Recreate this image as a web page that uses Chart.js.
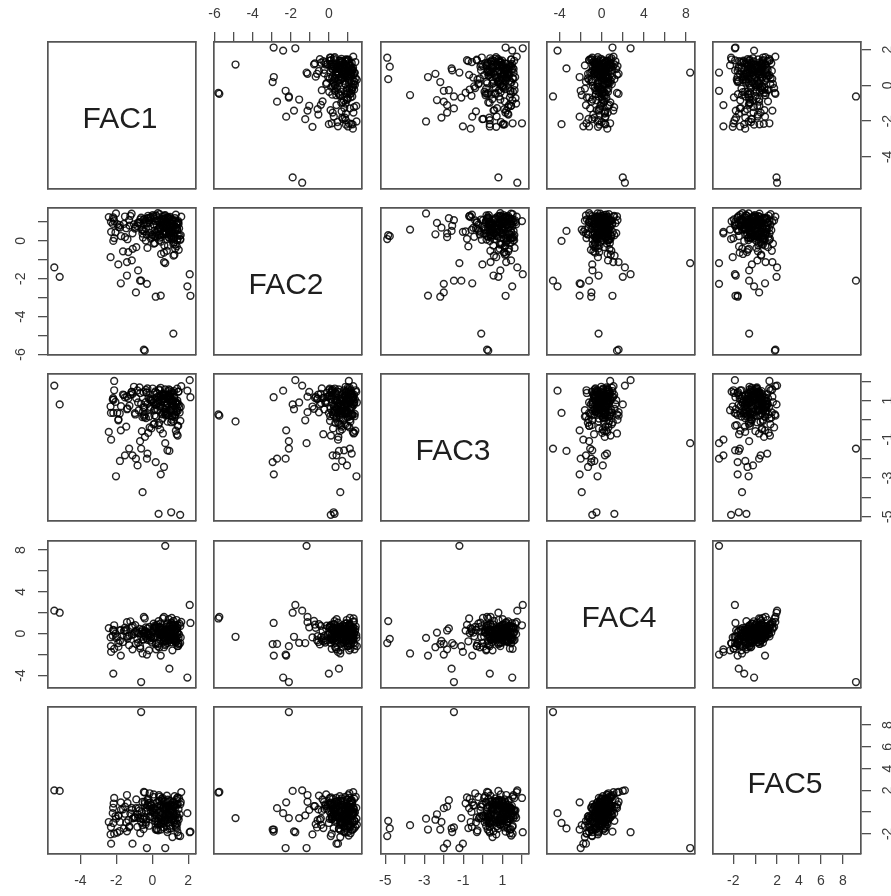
<!DOCTYPE html>
<html>
<head>
<meta charset="utf-8">
<script src="https://cdn.jsdelivr.net/npm/chart.js@4.4.1/dist/chart.umd.min.js"></script>
<style>
html,body{margin:0;padding:0;background:#fff;}
#wrap{position:relative;width:891px;height:896px;overflow:hidden;background:#fff;}
#wrap canvas{position:absolute;}
</style>
</head>
<body>
<div id="wrap"></div>
<script>
const varNames = ['FAC1', 'FAC2', 'FAC3', 'FAC4', 'FAC5'];

const fac1 = [
  -5.45, -5.15, -0.47, -0.42, 1.17, 0.35, 1.05, 1.55,
  2.12, 1.95, 2.08, 0.95, -0.62, -2.17, 0.72, -0.30,
  -2.30, -2.02, -2.29, -1.89, -1.75, -1.41, -1.41, -1.14, -0.91, -0.79,
  -0.68, 0.65, 0.19, 0.47, -1.80, -1.52, -1.29, -1.10, -0.82, -0.54,
  -0.27, 0.65, 0.84, -2.20, -2.18, -2.12, -2.12, 1.12, 1.40,
  0.52, -0.31, 1.12, 0.87, -1.45, 0.23, 1.38, -0.76, 0.65, 1.05,
  -0.12, 0.94, -1.88, 0.41, 1.27, -0.58, 0.76, 1.52, -1.02, 0.08,
  0.33, -2.15, 1.18, 0.61, -0.44, 0.99, 1.41, -1.27, 0.17, 0.72,
  -0.89, 1.33, 0.46, -0.05, 1.09, -1.63, 0.83, 0.28, 1.56, -0.67,
  0.58, 1.21, -0.23, 0.91, -1.95, 0.37, 1.47, -0.35, 0.69, 1.02,
  -1.15, 0.12, 1.29, 0.79, -0.52, 1.61, 0.44, -2.32, 0.95, -0.18,
  1.15, 0.55, -0.95, 1.36, 0.03, -1.38, 0.88, 1.24, -0.62, 0.49,
  1.44, -1.74, 0.26, 0.97, -0.27, 1.08, -2.05, 0.63, 1.31, -0.08,
  0.81, -0.83, 1.19, 0.39, -1.52, 1.49, 0.14, 0.74, -0.41, 1.11,
  -1.22, 0.67, 1.39, -0.15, 0.92, -1.81, 0.31, 1.23, 0.57, -0.71,
  1.03, -2.42, 0.48, 1.35, -0.49, 0.85, 1.58, -1.09, 0.21, 0.96,
  -0.36, 1.26, 0.07, -1.33, 0.71, 1.45, -0.97, 0.59, 1.17, -1.58,
  0.62, 0.15, 1.02, -0.28, 0.84, 1.21, 0.37, -0.49, 0.93, 1.34,
  0.06, 0.71, 1.13, -0.16, 0.48, 0.89, 1.42, 0.25, -0.37, 0.78,
  1.06, 0.43, -0.08, 1.27, 0.66, 0.19, 0.98, 1.37, -0.55, 0.54,
  0.82, 1.18, 0.31, -0.21, 1.09, 0.59, 0.02, 1.29, 0.74, 0.38,
  -0.43, 0.96, 1.46, 0.12, 0.68, 1.01, -0.12, 0.86, 0.45, 1.22,
  0.27, 0.77, -0.33, 1.15, 0.53, 0.91, 1.39, 0.09, 0.64, -0.02
];

const fac2 = [
  -1.40, -1.90, -5.75, -5.80, -4.90, 0.30, 0.25, 0.10,
  -2.90, -2.40, -1.76, 0.53, -2.10, 0.00, -1.17, -2.27,
  1.01, 1.45, 0.48, -1.24, -2.24, -1.12, -1.83, -1.03, -2.72, -1.56,
  -2.10, -1.12, -2.95, -2.89, 0.70, 0.20, 1.10, 0.40, 0.95, 0.60,
  1.20, 0.35, 0.80, 0.90, 1.25, 0.15, 1.05, 0.60, 1.00,
  0.85, 0.32, 1.12, -0.25, 0.67, 1.31, 0.04, 0.95, -0.62, 0.48,
  1.22, 0.15, 0.73, 1.41, -0.41, 0.58, 1.05, 0.27, 0.88, -0.14,
  0.62, 1.18, -0.78, 0.36, 0.99, 1.27, 0.11, 0.81, 0.44, 1.36,
  -0.33, 0.71, 1.09, 0.22, 0.93, -0.55, 1.25, 0.51, 0.06, 1.14,
  0.77, -0.08, 1.33, 0.41, 0.89, 1.02, -0.47, 0.64, 1.19, 0.29,
  1.44, 0.55, -0.19, 0.97, 0.18, 1.28, 0.69, -0.86, 0.83, 1.07,
  0.38, 1.16, 0.74, -0.29, 1.37, 0.09, 0.92, 0.57, 1.23, -0.69,
  0.96, 0.26, 1.21, 0.61, -0.37, 1.10, 0.45, 0.87, 1.39, 0.13,
  -0.52, 0.79, 1.03, 0.34, 1.29, 0.66, -0.11, 1.17, 0.50, 0.91,
  1.32, -0.24, 0.60, 1.08, 0.20, 0.84, 1.47, -0.73, 0.39, 1.00,
  0.70, 1.26, -0.04, 0.94, 0.53, 1.13, 0.31, -0.42, 1.35, 0.76,
  0.02, 1.20, 0.86, -0.59, 0.47, 1.04, 0.65, 1.30, -0.16, 0.90,
  0.72, 1.05, 0.41, 0.93, 1.24, 0.18, 0.66, 1.12, 0.35, 0.88,
  1.31, 0.52, 0.07, 0.97, 0.61, 1.19, 0.29, 0.83, 1.08, 0.46,
  0.14, 0.75, 1.27, 0.58, 0.91, 0.23, 1.15, 0.68, 0.39, 1.01,
  0.85, 0.12, 0.63, 1.22, 0.49, 0.95, 0.31, 1.09, 0.78, 0.04,
  1.17, 0.56, 0.89, 0.26, 1.34, 0.71, 0.43, 0.99, 0.17, 0.81,
  1.06, 0.37, 0.92, 0.64, 0.21, 1.25, 0.54, 0.87, 1.13, 0.33
];

const fac3 = [
  1.77, 0.80, 0.22, 0.28, -0.08, -4.85, -4.77, -4.90,
  1.17, 1.51, 2.05, -1.60, -1.48, 0.36, -1.20, -2.00,
  0.36, -2.91, -1.02, -0.02, -0.54, 1.20, 0.55, 1.45, -2.00, 0.90,
  -1.10, 0.40, -2.18, -2.81, -2.12, -1.83, -1.48, -1.83, -2.35, -3.73,
  -1.74, -2.43, -1.57, 1.05, 1.12, 1.53, 2.01, 0.50, -0.30,
  0.95, 1.42, 0.21, 1.15, -0.35, 0.78, 1.61, 0.49, 1.08, -0.12,
  0.66, 1.27, 0.03, 1.53, 0.87, -0.58, 1.19, 0.38, 1.71, 0.92,
  -0.27, 1.04, 0.57, 1.36, 0.14, 1.23, -0.81, 0.73, 1.47, 0.31,
  1.12, 0.45, 1.66, -0.44, 0.99, 1.31, 0.25, 0.84, -0.05, 1.39,
  0.61, 1.18, -0.67, 1.02, 0.36, 1.57, 0.80, 0.09, 1.29, 0.52,
  1.45, -0.20, 0.88, 1.11, 0.42, 1.74, -0.49, 0.69, 1.24, 0.17,
  0.97, 1.33, 0.28, -0.74, 1.06, 0.59, 1.49, 0.12, 0.83, 1.20,
  -0.31, 0.71, 1.38, 0.47, 1.63, 0.01, 0.93, 1.26, -0.56, 1.07,
  0.39, 1.52, 0.76, -0.15, 1.16, 0.64, 1.41, 0.23, -0.88, 0.86,
  1.30, 0.54, 1.00, -0.39, 1.58, 0.33, 0.90, 1.14, 0.07, 1.68,
  0.46, -0.62, 1.22, 0.81, 1.44, -0.09, 0.68, 1.35, 0.19, 1.03,
  1.55, 0.27, -0.23, 1.10, 0.74, 1.46, 0.35, -0.70, 0.98, 1.28,
  1.12, 0.55, 1.36, 0.82, 0.28, 1.49, 0.97, 0.63, 1.21, 0.41,
  0.88, 1.58, 0.19, 1.05, 0.73, 1.31, 0.47, 1.18, 0.92, 0.34,
  1.44, 0.68, 1.01, 0.25, 1.27, 0.79, 1.53, 0.58, 0.14, 1.09,
  0.86, 1.39, 0.51, 1.15, 0.71, 0.32, 1.62, 0.95, 0.44, 1.24,
  0.66, 1.07, 1.46, 0.23, 0.91, 1.33, 0.57, 0.83, 1.19, 0.38,
  1.03, 0.62, 1.41, 0.76, 0.29, 1.14, 0.87, 0.49, 1.28, 0.99
];

const fac4 = [
  2.20, 2.00, 1.60, 1.45, -0.30, 1.20, -0.50, -0.90,
  1.02, -4.20, 2.74, -3.35, -4.63, -3.82, 8.40, -2.00,
  -1.20, -0.40, -1.75, -0.90, -2.10, 1.10, -0.30, 0.60, -0.98, -0.88,
  -1.20, 1.60, -1.00, -2.10, -0.70, 0.30, -1.10, -1.50, 0.10, -1.90,
  0.50, -1.30, -0.90, -0.20, 0.35, -1.45, 0.80, -1.60, -1.20,
  0.12, -0.45, 0.78, -0.21, 0.35, -0.88, 0.55, 0.02, -0.63, 1.05,
  -0.12, 0.41, -1.25, 0.68, -0.33, 0.22, -0.71, 0.93, -0.05, 0.49,
  -0.95, 0.30, 1.22, -0.38, 0.07, -0.56, 0.84, -0.17, 0.61, -1.10,
  0.26, -0.49, 0.97, -0.26, 0.44, -0.80, 0.15, -0.02, 0.73, -1.42,
  0.38, -0.67, 0.05, 1.38, -0.29, 0.57, -1.03, 0.19, -0.41, 0.88,
  -0.14, 0.63, -0.85, 0.33, -0.58, 1.12, 0.09, -0.36, 0.71, -1.60,
  0.47, -0.09, 0.82, -0.73, 0.24, -0.47, 1.01, 0.11, -0.31, 0.56,
  -1.18, 0.36, -0.22, 0.69, -0.60, 1.50, 0.00, -0.78, 0.42, -0.35,
  0.91, -0.52, 0.18, -1.32, 0.58, -0.07, 0.77, -0.98, 0.29, -0.19,
  1.18, -0.43, 0.08, 0.64, -0.66, 0.31, -1.20, 0.86, -0.27, 0.45,
  -0.84, 0.53, -0.11, 1.30, -0.55, 0.20, -0.37, 0.74, -1.50, 0.13,
  0.60, -0.70, 0.95, -0.24, 0.40, -0.93, 0.17, 1.45, -0.61, 0.27,
  0.15, -0.32, 0.48, -0.07, 0.26, -0.55, 0.62, 0.03, -0.21, 0.37,
  -0.44, 0.11, 0.71, -0.16, 0.34, -0.62, 0.08, 0.52, -0.28, 0.19,
  -0.05, 0.43, -0.37, 0.29, -0.71, 0.57, 0.01, -0.24, 0.38, -0.12,
  0.66, -0.47, 0.22, -0.09, 0.45, -0.33, 0.13, 0.79, -0.58, 0.06,
  -0.19, 0.31, -0.41, 0.54, -0.02, 0.24, -0.66, 0.41, -0.14, 0.17,
  0.85, -0.27, 0.09, -0.51, 0.35, -0.04, 0.49, -0.36, 0.21, -0.85
];

const fac5 = [
  2.00, 1.95, 1.85, 1.80, -0.55, -0.80, -1.50, -2.20,
  -1.80, -0.10, -1.85, -1.50, 9.20, -1.00, -3.30, -3.30,
  -1.37, -0.60, -2.90, -0.30, 0.90, 1.57, -1.77, 0.20, 0.36, -0.55,
  -0.55, 0.95, -1.60, -1.60, -0.90, 0.50, -1.40, -2.90, -0.20, -1.20,
  1.10, -0.70, -1.83, -0.10, 0.40, -1.98, 1.30, -2.29, -1.83,
  -0.72, 0.41, 0.06, 0.93, -0.95, -1.52, 1.28, 0.37, -1.41, 0.15,
  0.88, -0.64, -0.35, 1.41, -1.18, 0.02, 0.47, -0.21, -0.52, 1.62,
  -1.68, 0.79, 0.54, 0.33, -0.44, -0.08, 1.35, -1.31, -0.27, -0.86,
  1.17, -1.05, -0.31, 0.61, -0.73, 0.25, -1.60, 0.94, 0.72, -1.94,
  -0.16, 0.52, 1.23, 0.47, -1.88, 1.56, -0.69, -0.92, 0.18, 0.04,
  0.39, -0.58, 0.71, -1.27, -0.61, 1.84, 0.63, -2.05, 0.26, -1.25,
  0.97, 1.09, -0.48, -1.47, -0.03, 0.84, 0.58, 1.47, -0.89, -1.11,
  -0.49, 0.22, -1.62, 1.06, 0.11, 0.71, -0.37, -0.97, -1.35, 0.66,
  1.52, -1.36, -0.78, -0.41, -0.15, 1.26, 0.32, 0.45, 0.81, -0.66,
  -0.12, 0.29, -1.07, 1.73, -0.31, -1.74, -1.15, 0.55, 1.31, 0.16,
  0.24, -0.91, 0.67, 1.12, -1.57, 0.49, 0.93, -0.58, -0.82, -0.26,
  0.08, -0.34, 1.39, -0.74, 1.02, -2.15, -0.46, 0.36, 0.59, -1.49,
  0.45, -0.85, 0.12, 0.63, -0.22, -0.41, 1.05, -0.67, 0.31, -0.15,
  0.28, -0.52, 0.88, 0.47, -0.96, -0.08, 0.74, 0.16, -1.12, 0.57,
  -0.43, 1.02, 0.05, -0.71, -0.34, 0.21, -1.25, 0.69, 0.93, -0.58,
  0.36, -0.19, -0.88, 0.82, 0.59, -1.03, 0.14, 0.42, -0.29, -0.62,
  0.97, -0.45, 0.27, -0.11, -0.79, 0.66, -0.37, 1.14, 0.03, -0.92,
  0.51, 0.24, -0.64, 0.08, 1.21, -0.26, -0.53, 0.38, -0.83, -0.47
];

// axis ranges and ticks for each variable
const axisMin = [-5.80, -6.03, -5.22, -5.20, -3.85];
const axisMax = [2.43, 1.74, 2.37, 8.86, 9.66];
const ticksFAC1 = [-4, -2, 0, 2];
const ticksFAC2 = [-6, -5, -4, -3, -2, -1, 0, 1];
const ticksFAC3 = [-5, -4, -3, -2, -1, 0, 1, 2];
const ticksFAC4 = [-4, -2, 0, 2, 4, 6, 8];
const ticksFAC5 = [-2, 0, 2, 4, 6, 8];
const labelsFAC1 = ['-4', '-2', '0', '2'];
const labelsFAC2 = ['-6', '', '-4', '', '-2', '', '0', ''];
const labelsFAC3 = ['-5', '', '-3', '', '-1', '', '1', ''];
const labelsFAC4 = ['-4', '', '0', '', '4', '', '8'];
const labelsFAC5 = ['-2', '', '2', '4', '6', '8'];

// ---------- drawing ----------
const series = [fac1, fac2, fac3, fac4, fac5];
const tickValues = [ticksFAC1, ticksFAC2, ticksFAC3, ticksFAC4, ticksFAC5];
const tickLabels = [labelsFAC1, labelsFAC2, labelsFAC3, labelsFAC4, labelsFAC5];

const colLeft = [48, 214, 381, 547, 713];
const rowTop = [42, 208, 374, 541, 707];
const PW = 148, PH = 147, M = 40;
const FONT = '"Liberation Sans", Arial, Helvetica, sans-serif';

Chart.defaults.font.family = FONT;

const diagPlugin = {
  id: 'diagLabel',
  afterDraw(chart, args, opts) {
    if (!opts || !opts.text) return;
    const a = chart.chartArea, ctx = chart.ctx;
    ctx.save();
    ctx.font = '30px ' + FONT;
    ctx.fillStyle = '#1e1e1e';
    ctx.textAlign = 'center';
    ctx.textBaseline = 'alphabetic';
    ctx.fillText(opts.text, (a.left + a.right) / 2 - 2, (a.top + a.bottom) / 2 + 2 + 10.7);
    ctx.restore();
  }
};

function makeScale(axis, position, v, show) {
  return {
    type: 'linear',
    axis: axis,
    position: position,
    min: axisMin[v],
    max: axisMax[v],
    afterFit(s) { if (axis === 'x') s.height = M; else s.width = M; },
    afterBuildTicks(s) { s.ticks = tickValues[v].map(t => ({ value: t })); },
    grid: { display: show, drawOnChartArea: false, drawTicks: true, tickLength: 10, color: '#505050', lineWidth: 1.3 },
    border: { display: true, color: '#555', width: 1.7 },
    ticks: {
      display: show,
      autoSkip: false,
      padding: axis === 'x' ? 9 : 11,
      color: '#3a3a3a',
      font: { size: 14, family: FONT },
      minRotation: axis === 'y' ? 90 : 0,
      maxRotation: axis === 'y' ? 90 : 0,
      crossAlign: axis === 'y' ? 'center' : 'near',
      callback(value) {
        const k = tickValues[v].indexOf(value);
        return k >= 0 ? tickLabels[v][k] : '';
      }
    }
  };
}

const wrap = document.getElementById('wrap');
for (let i = 0; i < 5; i++) {
  for (let j = 0; j < 5; j++) {
    const cv = document.createElement('canvas');
    cv.width = PW + 2 * M;
    cv.height = PH + 2 * M;
    cv.style.left = (colLeft[j] - M) + 'px';
    cv.style.top = (rowTop[i] - M) + 'px';
    wrap.appendChild(cv);

    const showTop = i === 0 && j % 2 === 1;
    const showBottom = i === 4 && j % 2 === 0;
    const showLeft = j === 0 && i % 2 === 1;
    const showRight = j === 4 && i % 2 === 0;

    const datasets = [];
    if (i !== j) {
      datasets.push({
        data: series[j].map((xv, k) => ({ x: xv, y: series[i][k] })),
        showLine: false,
        pointRadius: 3.4,
        pointBorderWidth: 1.45,
        pointBorderColor: 'rgba(0,0,0,0.85)',
        pointBackgroundColor: 'rgba(0,0,0,0)',
        xAxisID: 'x',
        yAxisID: 'y'
      });
    }

    new Chart(cv, {
      type: 'scatter',
      data: { datasets: datasets },
      options: {
        responsive: false,
        animation: false,
        events: [],
        layout: { padding: 0 },
        plugins: {
          legend: { display: false },
          tooltip: { enabled: false },
          diagLabel: { text: i === j ? varNames[i] : '' }
        },
        scales: {
          x: makeScale('x', 'bottom', j, showBottom),
          x2: makeScale('x', 'top', j, showTop),
          y: makeScale('y', 'left', i, showLeft),
          y2: makeScale('y', 'right', i, showRight)
        }
      },
      plugins: [diagPlugin]
    });
  }
}
</script>
</body>
</html>
